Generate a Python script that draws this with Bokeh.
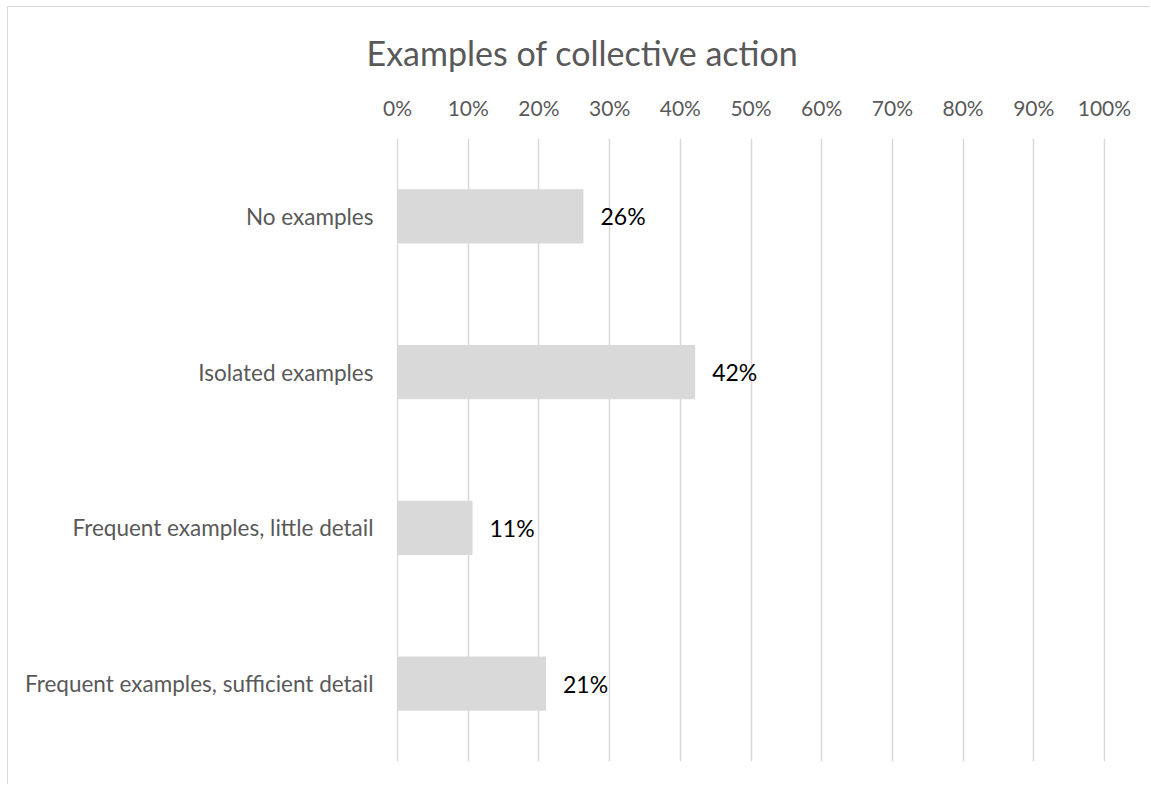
from bokeh.plotting import figure
from bokeh.models import FactorRange, Range1d, FixedTicker, NumeralTickFormatter, ColumnDataSource
from bokeh.core.properties import value
from bokeh.embed import file_html
from bokeh.resources import INLINE

categories = ["No examples", "Isolated examples", "Frequent examples, little detail", "Frequent examples, sufficient detail"]
shares = [0.263, 0.421, 0.106, 0.210]
tick_values = [0.0, 0.1, 0.2, 0.3, 0.4, 0.5, 0.6, 0.7, 0.8, 0.9, 1.0]
title_text = "Examples of collective action"

FONT = "Lato"
GREY = "#595959"
LIGHT = "#d9d9d9"

labels = [f"{round(v * 100)}%" for v in shares]
source = ColumnDataSource(dict(cat=categories, val=shares, lab=labels))

p = figure(
    width=1143, height=778,
    y_range=FactorRange(factors=list(reversed(categories))),
    x_range=Range1d(-0.0015, 1.0015),
    x_axis_location="above",
    output_backend="svg", toolbar_location=None,
    min_border_left=388, min_border_right=46, min_border_top=131, min_border_bottom=24,
)
p.margin = (6, 0, 0, 7)
p.styles = {"border-left": "1.5px solid #d9d9d9", "border-top": "1.5px solid #d9d9d9"}
p.outline_line_color = None
p.background_fill_color = "white"
p.border_fill_color = "white"

p.title.text = title_text
p.title.text_font = FONT
p.title.text_font_size = "34px"
p.title.text_font_style = "normal"
p.title.text_color = GREY
p.title.align = "left"
p.title.offset = -30
p.title.standoff = 37

p.hbar(y="cat", right="val", left=0, height=0.347, source=source, fill_color=LIGHT, line_color=None)
p.text(x="val", y="cat", text="lab", source=source, x_offset=17, text_align="left", text_baseline="middle",
       text_font=value(FONT), text_font_size="23px", text_color="#000000")

xa = p.xaxis[0]
xa.ticker = FixedTicker(ticks=tick_values)
xa.formatter = NumeralTickFormatter(format="0%")
xa.axis_line_color = None
xa.major_tick_line_color = None
xa.minor_tick_line_color = None
xa.major_label_text_font = FONT
xa.major_label_text_font_size = "21px"
xa.major_label_text_color = GREY
xa.major_label_standoff = 13

ya = p.yaxis[0]
ya.axis_line_color = None
ya.major_tick_line_color = None
ya.major_tick_out = 0
ya.major_label_text_font = FONT
ya.major_label_text_font_size = "22.5px"
ya.major_label_text_color = GREY
ya.major_label_standoff = 23

p.xgrid.ticker = FixedTicker(ticks=tick_values)
p.xgrid.grid_line_color = LIGHT
p.xgrid.grid_line_width = 1.5
p.ygrid.grid_line_color = None

open("out.html", "w").write(file_html(p, INLINE))
